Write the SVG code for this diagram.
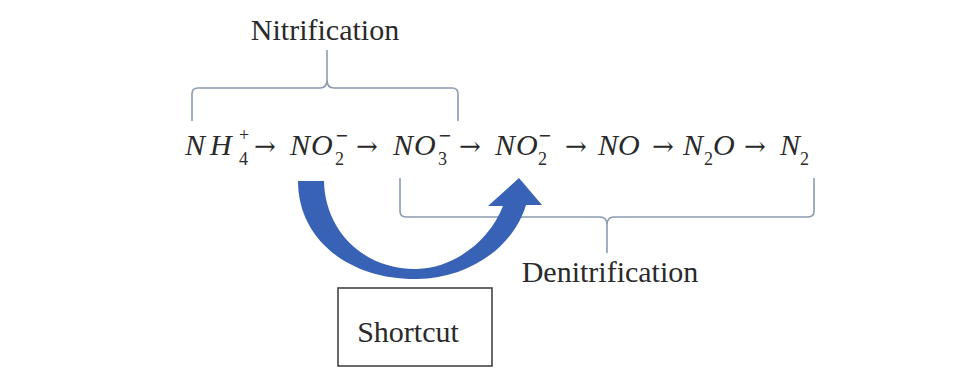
<svg xmlns="http://www.w3.org/2000/svg" width="971" height="383" viewBox="0 0 971 383">
<style>
.lbl{font-family:"Liberation Serif","Times New Roman",serif;font-size:30px;fill:#2a2a2a}
.eq{font-family:"Liberation Serif","Times New Roman",serif;font-style:italic;font-size:30px;fill:#2a2a2a}
.sb{font-family:"Liberation Serif","Times New Roman",serif;font-size:18px;fill:#2a2a2a}
.mn{font-family:"DejaVu Sans","Liberation Sans",sans-serif;font-size:16px;fill:#2a2a2a}
.ar{font-family:"DejaVu Serif","Liberation Serif",serif;font-size:26px;fill:#2a2a2a}
.brace{fill:none;stroke:#8a9bb3;stroke-width:1.6}
</style>
<rect width="971" height="383" fill="#ffffff"/>
<g id="nitrification">
<text class="lbl" x="325" y="40" text-anchor="middle">Nitrification</text>
<path class="brace" d="M192 121 V94 Q192 88 198 88 H320 Q327 88 327 80 V50 M327 80 Q327 88 334 88 H452 Q458 88 458 94 V121"/>
</g>
<g id="equation">
<text class="eq" x="185" y="155">N</text>
<text class="eq" x="210" y="155">H</text>
<text class="sb" x="239" y="165">4</text>
<text class="sb" x="239" y="141">+</text>
<text class="ar" x="254" y="155">→</text>
<text class="eq" x="290" y="155">N</text>
<text class="eq" x="311" y="155">O</text>
<text class="sb" x="335" y="165">2</text>
<text class="mn" x="335" y="141">−</text>
<text class="ar" x="356" y="155">→</text>
<text class="eq" x="393" y="155">N</text>
<text class="eq" x="414" y="155">O</text>
<text class="sb" x="438" y="165">3</text>
<text class="mn" x="438" y="141">−</text>
<text class="ar" x="459" y="155">→</text>
<text class="eq" x="495" y="155">N</text>
<text class="eq" x="516" y="155">O</text>
<text class="sb" x="538" y="165">2</text>
<text class="mn" x="538" y="141">−</text>
<text class="ar" x="565" y="155">→</text>
<text class="eq" x="598" y="155">N</text>
<text class="eq" x="618" y="155">O</text>
<text class="ar" x="652" y="155">→</text>
<text class="eq" x="683" y="155">N</text>
<text class="sb" x="704" y="165">2</text>
<text class="eq" x="713" y="155">O</text>
<text class="ar" x="744" y="155">→</text>
<text class="eq" x="780" y="155">N</text>
<text class="sb" x="800" y="165">2</text>
</g>
<g id="denitrification">
<path class="brace" d="M400 178 V211 Q400 217 406 217 H600 Q607 217 607 225 V253 M607 225 Q607 217 614 217 H808 Q814 217 814 211 V178"/>
<text class="lbl" x="610" y="282" text-anchor="middle">Denitrification</text>
</g>
<g id="shortcut-arrow">
<path fill="#3862b6" d="M298 181 C298 240 350 280 417 279 C472 278 514 245 526 205 L542 205 L519 178 L488 206 L503 206 C490 240 455 268 417 269 C365 270 325 232 324 181 Z"/>
</g>
<g id="shortcut">
<rect x="338" y="288" width="154" height="78" fill="#ffffff" stroke="#444" stroke-width="1.6"/>
<text class="lbl" x="408" y="342" text-anchor="middle">Shortcut</text>
</g>
</svg>
